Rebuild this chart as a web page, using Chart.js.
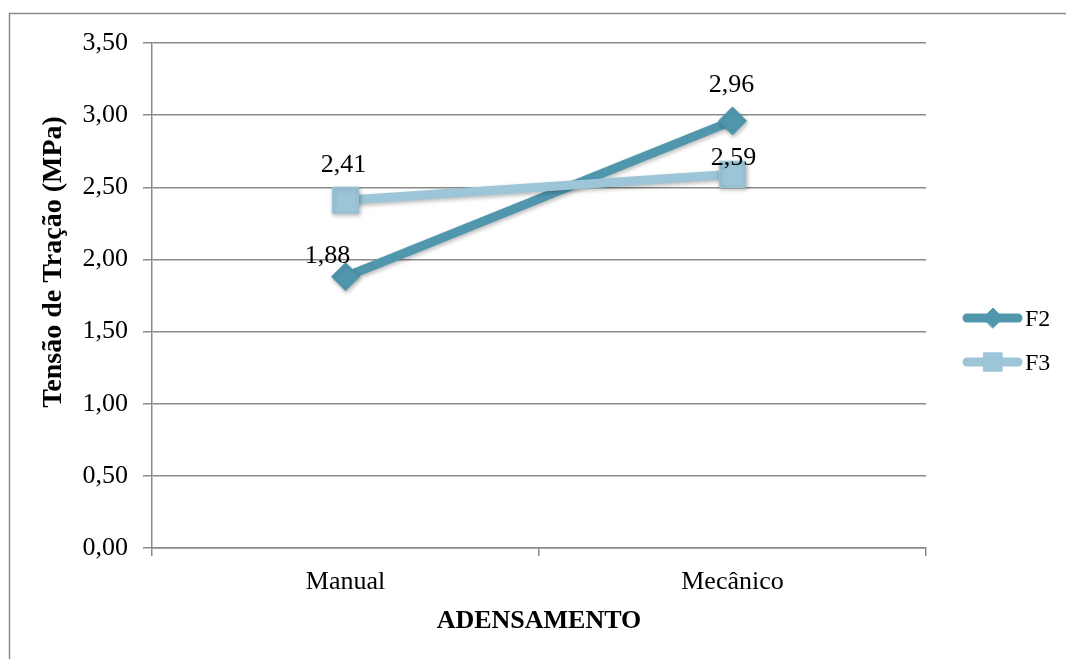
<!DOCTYPE html>
<html>
<head>
<meta charset="utf-8">
<script src="https://cdn.jsdelivr.net/npm/chart.js@4.4.0/dist/chart.umd.min.js"></script>
<style>
  html, body { margin: 0; padding: 0; background: #ffffff; }
  #wrap { width: 1066px; height: 659px; position: relative; }
</style>
</head>
<body>
<div id="wrap"><canvas id="c" width="1066" height="659"></canvas></div>
<script>
// Data
const categories = ['Manual', 'Mecânico'];
const seriesNames = ['F2', 'F3'];
const f2Values = [1.88, 2.96];
const f3Values = [2.41, 2.59];
const yTicks = [0, 0.5, 1, 1.5, 2, 2.5, 3, 3.5];
const xTitle = 'ADENSAMENTO';
const yTitle = 'Tensão de Tração (MPa)';

const FONT = '"Liberation Serif", "Times New Roman", serif';
const GRID = '#8a8a8a';
const COL_F2 = '#5097ae';
const COL_F3 = '#9cc5d7';

const fmt = v => v.toFixed(2).replace('.', ',');

// Outer frame of the chart object
const framePlugin = {
  id: 'frame',
  beforeDraw(chart) {
    const ctx = chart.ctx;
    ctx.save();
    ctx.strokeStyle = '#8c8c8c';
    ctx.lineWidth = 1.5;
    ctx.strokeRect(9.5, 13.5, 1070, 700);
    ctx.restore();
  }
};

// Soft shadow under lines and markers
const shadowPlugin = {
  id: 'softShadow',
  beforeDatasetsDraw(chart) {
    const ctx = chart.ctx;
    ctx.save();
    ctx.shadowColor = 'rgba(0,0,0,0.28)';
    ctx.shadowBlur = 4;
    ctx.shadowOffsetX = 1;
    ctx.shadowOffsetY = 2;
  },
  afterDatasetsDraw(chart) {
    chart.ctx.restore();
  }
};

// Value labels next to each point
const valueLabelPlugin = {
  id: 'valueLabels',
  afterDatasetsDraw(chart) {
    const ctx = chart.ctx;
    ctx.save();
    ctx.font = '26px ' + FONT;
    ctx.fillStyle = '#000';
    ctx.textAlign = 'center';
    ctx.textBaseline = 'alphabetic';
    chart.data.datasets.forEach((ds, di) => {
      const meta = chart.getDatasetMeta(di);
      meta.data.forEach((pt, i) => {
        const shift = (ds.labelShift && ds.labelShift[i]) || [0, -28];
        ctx.fillText(fmt(ds.data[i]), pt.x + shift[0], pt.y + shift[1]);
      });
    });
    ctx.restore();
  }
};

// Axis titles
const titlePlugin = {
  id: 'axisTitles',
  afterDraw(chart) {
    const ctx = chart.ctx;
    const area = chart.chartArea;
    ctx.save();
    ctx.fillStyle = '#000';
    ctx.font = 'bold 26px ' + FONT;
    ctx.textAlign = 'center';
    ctx.textBaseline = 'alphabetic';
    ctx.fillText(xTitle, (area.left + area.right) / 2, 628);
    ctx.translate(54, 262);
    ctx.rotate(-Math.PI / 2);
    ctx.font = 'bold 28px ' + FONT;
    ctx.textBaseline = 'middle';
    ctx.fillText(yTitle, 0, 0);
    ctx.restore();
  }
};

// Legend on the right: line sample with marker, then series name
const legendPlugin = {
  id: 'sideLegend',
  afterDraw(chart) {
    const ctx = chart.ctx;
    const rows = [318, 362];
    const markerRadius = [10, 13];
    chart.data.datasets.forEach((ds, i) => {
      const y = rows[i];
      ctx.save();
      ctx.strokeStyle = ds.borderColor;
      ctx.lineWidth = 9;
      ctx.lineCap = 'round';
      ctx.beginPath();
      ctx.moveTo(967, y);
      ctx.lineTo(1018, y);
      ctx.stroke();
      ctx.fillStyle = ds.backgroundColor;
      ctx.strokeStyle = ds.backgroundColor;
      ctx.lineWidth = 1;
      Chart.helpers.drawPoint(ctx, {
        pointStyle: ds.pointStyle,
        rotation: 0,
        radius: markerRadius[i],
        borderWidth: 1
      }, 993, y);
      ctx.fillStyle = '#000';
      ctx.font = '24px ' + FONT;
      ctx.textAlign = 'left';
      ctx.textBaseline = 'middle';
      ctx.fillText(seriesNames[i], 1025, y + 2);
      ctx.restore();
    });
  }
};

new Chart(document.getElementById('c'), {
  type: 'line',
  data: {
    labels: categories,
    datasets: [
      {
        label: seriesNames[0],
        data: f2Values,
        borderColor: COL_F2,
        backgroundColor: COL_F2,
        borderWidth: 9,
        borderCapStyle: 'round',
        pointStyle: 'rectRot',
        pointRadius: 14,
        pointBorderWidth: 1,
        pointBorderColor: COL_F2,
        pointBackgroundColor: COL_F2,
        order: 1,
        labelShift: [[-18, -14], [-1, -29]]
      },
      {
        label: seriesNames[1],
        data: f3Values,
        borderColor: COL_F3,
        backgroundColor: COL_F3,
        borderWidth: 9,
        borderCapStyle: 'round',
        pointStyle: 'rect',
        pointRadius: 18.5,
        pointBorderWidth: 1,
        pointBorderColor: COL_F3,
        pointBackgroundColor: COL_F3,
        order: 0,
        labelShift: [[-2, -28], [1, -9]]
      }
    ]
  },
  options: {
    responsive: false,
    animation: false,
    devicePixelRatio: 1,
    layout: { padding: { top: 43, right: 140, left: 0, bottom: 0 } },
    plugins: {
      legend: { display: false },
      tooltip: { enabled: false }
    },
    scales: {
      x: {
        type: 'category',
        offset: true,
        afterFit(scale) { scale.height = 111; },
        grid: {
          offset: true,
          drawOnChartArea: false,
          drawTicks: true,
          tickLength: 8,
          color: GRID,
          lineWidth: 1.5
        },
        border: { display: true, color: GRID, width: 1.5 },
        ticks: {
          color: '#000',
          padding: 11,
          font: { family: FONT, size: 26 }
        }
      },
      y: {
        min: 0,
        max: 3.5,
        afterFit(scale) { scale.width = 152; },
        afterBuildTicks(scale) { scale.ticks = yTicks.map(v => ({ value: v })); },
        grid: {
          drawOnChartArea: true,
          drawTicks: true,
          tickLength: 9,
          color: GRID,
          lineWidth: 1.5
        },
        border: { display: true, color: GRID, width: 1.5 },
        ticks: {
          color: '#000',
          padding: 15,
          font: { family: FONT, size: 26 },
          callback: v => fmt(v)
        }
      }
    }
  },
  plugins: [framePlugin, shadowPlugin, valueLabelPlugin, titlePlugin, legendPlugin]
});
</script>
</body>
</html>
